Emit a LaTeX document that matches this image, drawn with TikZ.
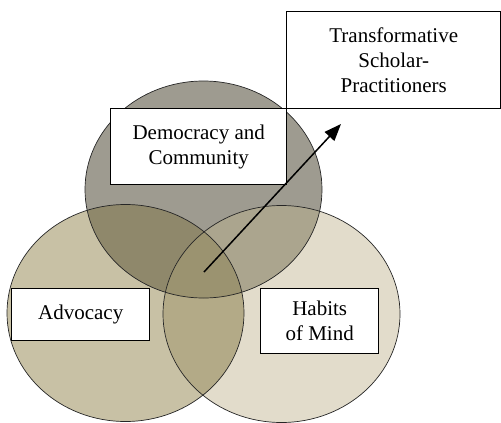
\documentclass[tikz,border=0pt]{standalone}
\usepackage{fontspec}
\setmainfont{Liberation Serif}
\usetikzlibrary{arrows.meta}
\definecolor{Lonly}{HTML}{C8C1A5}
\definecolor{Ronly}{HTML}{E2DCCB}
\definecolor{Tonly}{HTML}{9E9B90}
\definecolor{LR}{HTML}{B3AA87}
\definecolor{TL}{HTML}{8F886B}
\definecolor{TR}{HTML}{ABA58E}
\definecolor{TLR}{HTML}{9B9370}
\tikzset{
  labelbox/.style={draw=black, line width=1.4pt, fill=white, inner sep=0pt, align=center,
    font=\fontsize{21}{25}\selectfont},
  ring/.style={draw=black!85, line width=0.7pt},
}
\begin{document}
\begin{tikzpicture}[x=1pt,y=-1pt]
\useasboundingbox (0,0) rectangle (501,423);
\def\Lc{(125.5,313) ellipse [x radius=118.5, y radius=108.5]}
\def\Rc{(281.5,314) ellipse [x radius=118.5, y radius=108.5]}
\def\Tc{(203.5,189.5) ellipse [x radius=118.5, y radius=108.5]}
% single fills
\fill[Lonly] \Lc;
\fill[Ronly] \Rc;
\fill[Tonly] \Tc;
% pairwise
\begin{scope}\clip \Lc; \fill[LR] \Rc; \end{scope}
\begin{scope}\clip \Tc; \fill[TL] \Lc; \end{scope}
\begin{scope}\clip \Tc; \fill[TR] \Rc; \end{scope}
\begin{scope}\clip \Tc; \clip \Lc; \fill[TLR] \Rc; \end{scope}
% outlines
\draw[ring] \Lc;
\draw[ring] \Rc;
\draw[ring] \Tc;
% boxes
\node[labelbox, minimum width=214pt, minimum height=97pt, anchor=north west] (tsp) at (286,11)
  {Transformative\\Scholar-\\Practitioners};
\node[labelbox, minimum width=176pt, minimum height=76pt, anchor=north west] (dc) at (110,108)
  {Democracy and\\Community};
\node[labelbox, minimum width=138pt, minimum height=52pt, anchor=north west] (adv) at (11,288)
  {Advocacy};
\node[labelbox, minimum width=118pt, minimum height=65pt, anchor=north west] (hom) at (260,288)
  {Habits\\of Mind};
% arrow
\coordinate (core) at (204,272);
\coordinate (tip) at (341,124);
\draw[line width=1.5pt, -{Triangle[length=17pt,width=13pt]}] (core) -- (tip);
\end{tikzpicture}
\end{document}
